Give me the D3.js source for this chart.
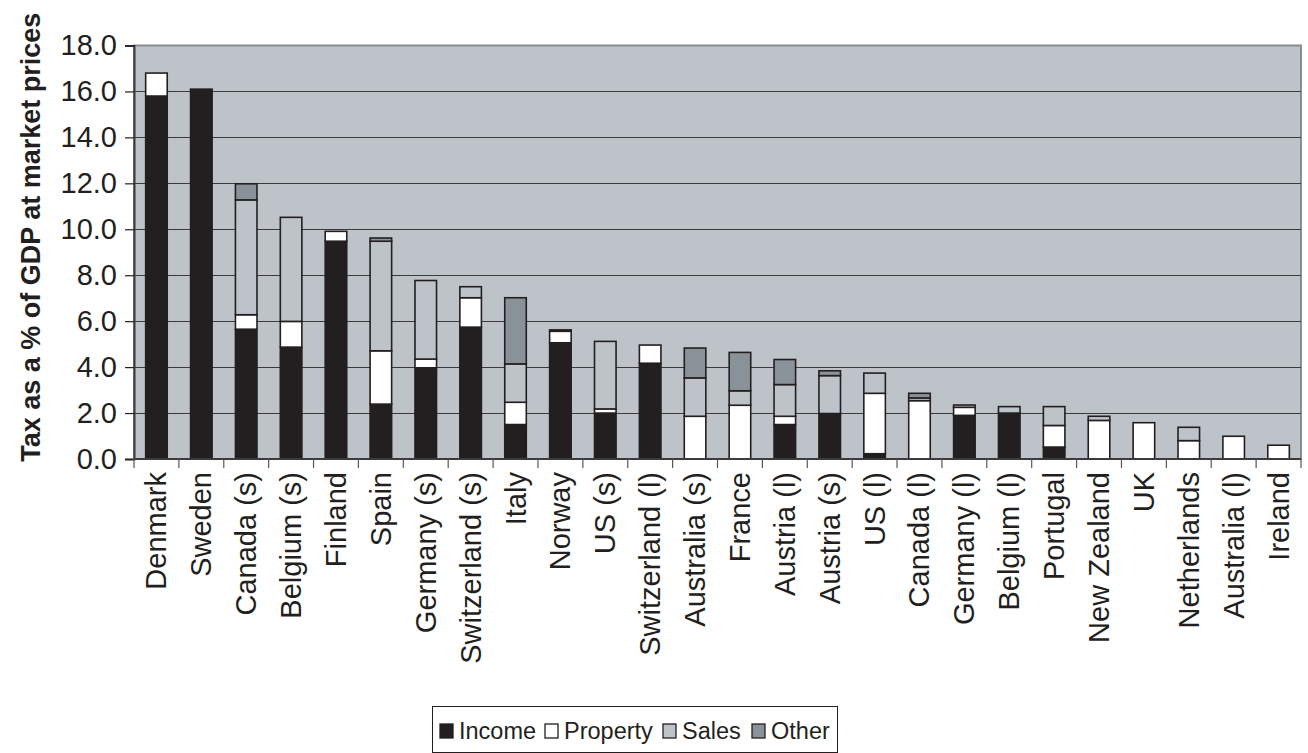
<!DOCTYPE html>
<html>
<head>
<meta charset="utf-8">
<script src="https://cdn.jsdelivr.net/npm/d3@7/dist/d3.min.js"></script>
<style>
  html, body { margin: 0; padding: 0; background: #fff; }
  svg { display: block; font-family: "Liberation Sans", Arial, sans-serif; }
</style>
</head>
<body>
<svg id="chart" width="1308" height="753"></svg>
<script>
// Tax revenue by type, % of GDP at market prices
const categories = ["Denmark", "Sweden", "Canada (s)", "Belgium (s)", "Finland", "Spain",
  "Germany (s)", "Switzerland (s)", "Italy", "Norway", "US (s)", "Switzerland (l)",
  "Australia (s)", "France", "Austria (l)", "Austria (s)", "US (l)", "Canada (l)",
  "Germany (l)", "Belgium (l)", "Portugal", "New Zealand", "UK", "Netherlands",
  "Australia (l)", "Ireland"];
const income   = [15.8, 16.1, 5.65, 4.87, 9.48, 2.39, 3.97, 5.74, 1.5, 5.06, 2.0, 4.17, 0, 0, 1.5, 1.98, 0.23, 0, 1.9, 2.0, 0.52, 0, 0, 0, 0, 0];
const property = [1.0, 0, 0.63, 1.12, 0.43, 2.32, 0.38, 1.28, 0.97, 0.5, 0.18, 0.79, 1.86, 2.34, 0.36, 0, 2.63, 2.54, 0.35, 0, 0.94, 1.68, 1.58, 0.8, 0.99, 0.6];
const sales    = [0, 0, 5.0, 4.53, 0, 4.77, 3.42, 0.48, 1.67, 0, 2.94, 0, 1.67, 0.63, 1.38, 1.65, 0.88, 0.12, 0.1, 0.28, 0.82, 0.18, 0, 0.58, 0, 0];
const other    = [0, 0, 0.7, 0, 0, 0.14, 0, 0, 2.88, 0.06, 0, 0, 1.3, 1.67, 1.09, 0.21, 0, 0.2, 0, 0, 0, 0, 0, 0, 0, 0];
const seriesNames = ["Income", "Property", "Sales", "Other"];
const yTicks = [0, 2, 4, 6, 8, 10, 12, 14, 16, 18];

const colors = { Income: "#231f20", Property: "#ffffff", Sales: "#bec3ca", Other: "#8a9299" };
const ink = "#231f20";

const rows = categories.map((c, i) => ({
  country: c, Income: income[i], Property: property[i], Sales: sales[i], Other: other[i]
}));

const svg = d3.select("#chart");
const plot = { left: 134, right: 1301, top: 45.5, bottom: 459 };

const x = d3.scaleBand().domain(categories).range([plot.left, plot.right])
  .paddingInner(0.52).paddingOuter(0.26);
const y = d3.scaleLinear().domain([0, 18]).range([plot.bottom, plot.top]);

// plot area background
svg.append("rect")
  .attr("x", plot.left).attr("y", plot.top)
  .attr("width", plot.right - plot.left).attr("height", plot.bottom - plot.top)
  .attr("fill", "#bec3ca").attr("stroke", "#878c93").attr("stroke-width", 2);

// horizontal gridlines
svg.append("g").selectAll("line").data(yTicks.filter(t => t > 0 && t < 18)).join("line")
  .attr("x1", plot.left).attr("x2", plot.right)
  .attr("y1", d => Math.round(y(d)) + 0.5).attr("y2", d => Math.round(y(d)) + 0.5)
  .attr("stroke", "#3b3b3b").attr("stroke-width", 1.2);

// stacked bars
const stack = d3.stack().keys(seriesNames)(rows);
svg.append("g").selectAll("g").data(stack).join("g")
  .attr("fill", d => colors[d.key])
  .selectAll("rect").data(d => d.filter(s => s[1] - s[0] > 0)).join("rect")
  .attr("x", d => x(d.data.country))
  .attr("width", x.bandwidth())
  .attr("y", d => y(d[1]))
  .attr("height", d => y(d[0]) - y(d[1]))
  .attr("stroke", ink).attr("stroke-width", 1.6);

// y axis
const yAxis = d3.axisLeft(y).tickValues(yTicks).tickFormat(d3.format(".1f"))
  .tickSize(9).tickPadding(8);
const yg = svg.append("g").attr("transform", `translate(${plot.left},0)`).call(yAxis);
yg.select(".domain").attr("stroke", "#3b3b3b").attr("stroke-width", 2);
yg.selectAll(".tick line").attr("stroke", ink).attr("stroke-width", 1.2);
yg.selectAll(".tick text").attr("font-size", 29).attr("fill", ink)
  .attr("font-family", "'Liberation Sans', Arial, sans-serif");

// x axis with ticks at category boundaries
svg.append("line")
  .attr("x1", plot.left).attr("x2", plot.right)
  .attr("y1", plot.bottom).attr("y2", plot.bottom)
  .attr("stroke", "#3b3b3b").attr("stroke-width", 2);
svg.append("g").selectAll("line").data(d3.range(categories.length + 1)).join("line")
  .attr("x1", i => plot.left + i * (plot.right - plot.left) / categories.length)
  .attr("x2", i => plot.left + i * (plot.right - plot.left) / categories.length)
  .attr("y1", plot.bottom).attr("y2", plot.bottom + 9)
  .attr("stroke", "#555").attr("stroke-width", 1.2);

svg.append("g").selectAll("text").data(categories).join("text")
  .attr("transform", d => `translate(${x(d) + x.bandwidth() / 2 + 10},${plot.bottom + 13}) rotate(-90)`)
  .attr("text-anchor", "end")
  .attr("font-size", 29).attr("fill", ink)
  .text(d => d);

// y axis title
svg.append("text")
  .attr("transform", `translate(40,${(plot.top + plot.bottom) / 2 - 15}) rotate(-90)`)
  .attr("text-anchor", "middle")
  .attr("font-size", 27).attr("font-weight", "bold").attr("fill", ink)
  .text("Tax as a % of GDP at market prices");

// legend
const legend = svg.append("g");
legend.append("rect")
  .attr("x", 432.5).attr("y", 706.5).attr("width", 405).attr("height", 46)
  .attr("fill", "#fff").attr("stroke", ink).attr("stroke-width", 1);
const legendX = [440, 545, 663, 752];
const items = legend.selectAll("g.item").data(seriesNames).join("g")
  .attr("transform", (d, i) => `translate(${legendX[i]},0)`);
items.append("rect")
  .attr("x", 0).attr("y", 724).attr("width", 13).attr("height", 14)
  .attr("fill", d => colors[d]).attr("stroke", ink).attr("stroke-width", 1.3);
items.append("text")
  .attr("x", 19).attr("y", 739)
  .attr("font-size", 23.5).attr("fill", ink)
  .text(d => d);
</script>
</body>
</html>
